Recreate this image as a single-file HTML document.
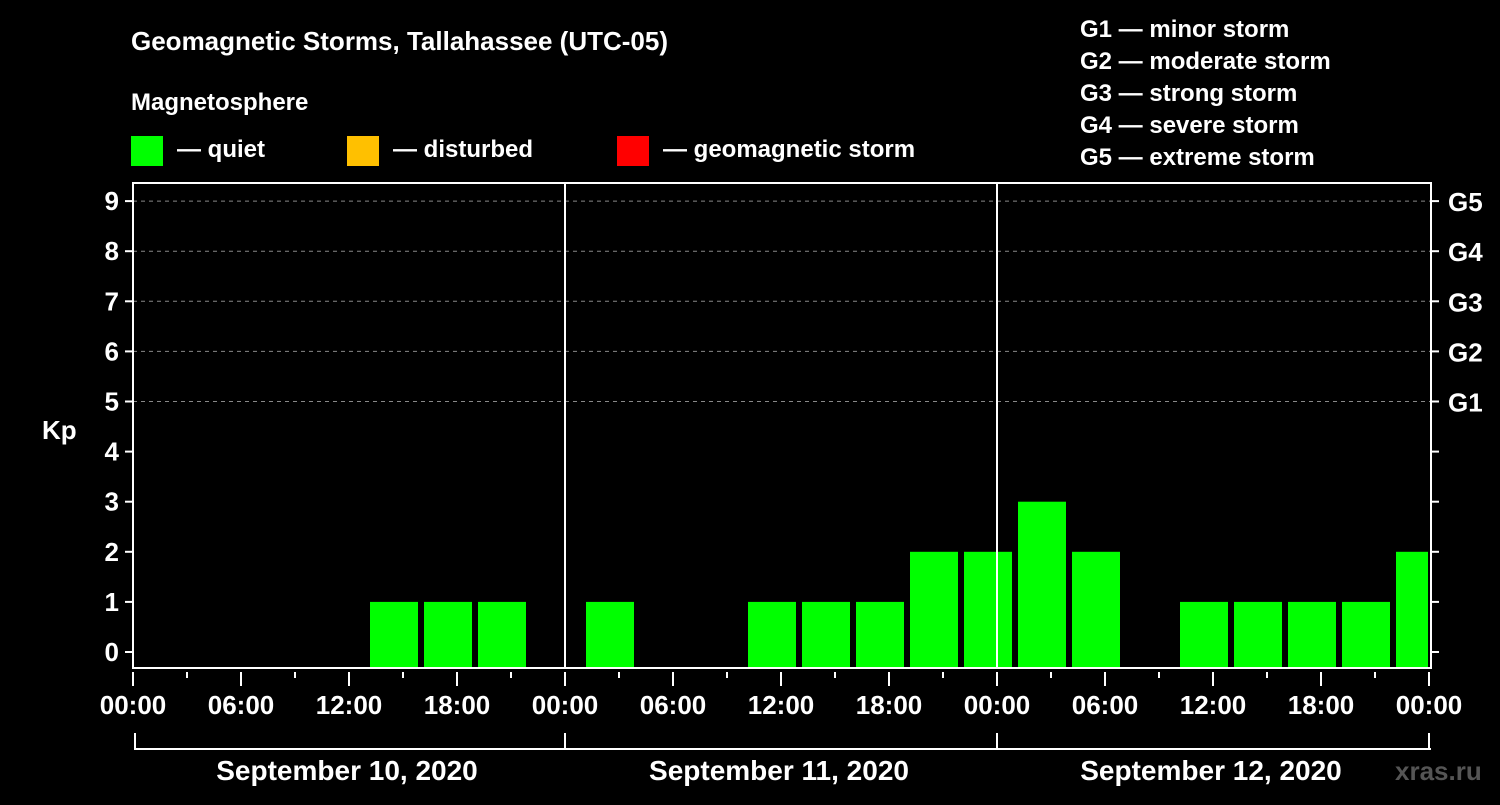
<!DOCTYPE html>
<html><head><meta charset="utf-8"><style>
body{margin:0;background:#000;width:1500px;height:800px;overflow:hidden}
text{font-family:"Liberation Sans",Arial,sans-serif;font-weight:bold;fill:#fff}
</style></head><body>
<svg id="chart" width="1500" height="800" viewBox="0 0 1500 800">
<rect width="1500" height="800" fill="#000"/>
<text x="131" y="50" font-size="26">Geomagnetic Storms, Tallahassee (UTC-05)</text>
<text x="131" y="110" font-size="24">Magnetosphere</text>
<g><rect x="131" y="136" width="32" height="30" fill="#00ff00"/><text x="177" y="157" font-size="24">— quiet</text></g>
<g><rect x="347" y="136" width="32" height="30" fill="#ffc000"/><text x="393" y="157" font-size="24">— disturbed</text></g>
<g><rect x="617" y="136" width="32" height="30" fill="#ff0000"/><text x="663" y="157" font-size="24">— geomagnetic storm</text></g>
<g font-size="24">
<text x="1080" y="37" font-size="24">G1 — minor storm</text>
<text x="1080" y="69" font-size="24">G2 — moderate storm</text>
<text x="1080" y="101" font-size="24">G3 — strong storm</text>
<text x="1080" y="133" font-size="24">G4 — severe storm</text>
<text x="1080" y="165" font-size="24">G5 — extreme storm</text>
</g>
<g id="grid"></g>
<g id="bars"></g>
<g id="axes"></g>
<text x="42" y="439" font-size="26">Kp</text>
<text x="1395" y="780" font-size="26" style="fill:#555">xras.ru</text>
</svg>
<script>
const days = ["September 10, 2020","September 11, 2020","September 12, 2020"];
const slotStartHours = [1,4,7,10,13,16,19,22];
const kpSep10 = [0,0,0,0,1,1,1,0];
const kpSep11 = [1,0,0,1,1,1,2,2];
const kpSep12 = [3,2,0,1,1,1,1,2];
const kpTicks = [0,1,2,3,4,5,6,7,8,9];
const gLabels = ["G1","G2","G3","G4","G5"];
const hourLabels = ["00:00","06:00","12:00","18:00"];

const NS="http://www.w3.org/2000/svg";
const X0=133, X1=1431, PT=183, PB=668, dayW=432;
const xH = h => X0 + h*(dayW/24);
const yK = k => 652 - k*50.1;
function mk(tag, attrs, parent){const e=document.createElementNS(NS,tag);for(const k in attrs)e.setAttribute(k,attrs[k]);parent.appendChild(e);return e;}
const grid=document.getElementById('grid'), bars=document.getElementById('bars'), axes=document.getElementById('axes');

// gridlines
for(let i=0;i<gLabels.length;i++){
  const l=mk('line',{x1:X0,x2:X1,y1:yK(5+i),y2:yK(5+i),stroke:'#888','stroke-dasharray':'4,4','stroke-width':1},grid);
  
  
  const t=mk('text',{x:1448,y:yK(5+i)+10,'font-size':26},axes);
  t.textContent=gLabels[i];
  
  
}
// bars
const allKp=[kpSep10,kpSep11,kpSep12];
allKp.forEach((arr,d)=>{
  arr.forEach((k,i)=>{
    if(k<=0)return;
    const s=xH(d*24+slotStartHours[i])+3;
    let e=xH(d*24+slotStartHours[i]+3)-3;
    if(e>X1-3)e=X1-3;
    const c = k>=5?'#ff0000':(k>=4?'#ffc000':'#00ff00');
    const r=mk('rect',{x:s,y:yK(k),width:e-s,height:PB-yK(k),fill:c},bars);
    
    
  });
});
// frame
const fr=mk('rect',{x:X0,y:PT,width:X1-X0,height:PB-PT,fill:'none',stroke:'#fff','stroke-width':2},axes);


for(let d=1;d<days.length;d++){
  const l=mk('line',{x1:xH(d*24),x2:xH(d*24),y1:PT,y2:PB,stroke:'#fff','stroke-width':2},axes);
  
  
}
// y ticks
kpTicks.forEach(k=>{
  const y=yK(k);
  mk('line',{x1:X0-8,x2:X0,y1:y,y2:y,stroke:'#fff','stroke-width':2},axes);
  mk('line',{x1:X1,x2:X1+8,y1:y,y2:y,stroke:'#fff','stroke-width':2},axes);
  const t=mk('text',{x:X0-14,y:y+9,'font-size':26,'text-anchor':'end'},axes);
  t.textContent=k;
  
  
});
// x ticks
for(let h=0;h<=days.length*24;h+=3){
  const x=xH(h), major=h%6===0;
  mk('line',{x1:x,x2:x,y1:PB+4,y2:PB+(major?18:10),stroke:'#fff','stroke-width':2},axes);
  if(major){
    const t=mk('text',{x:x,y:714,'font-size':26,'text-anchor':'middle'},axes);
    t.textContent=hourLabels[(h/6)%4];
    
    
  }
}
// date brackets
mk('line',{x1:X0+2,x2:X1,y1:749,y2:749,stroke:'#fff','stroke-width':2},axes);
for(let d=0;d<=days.length;d++){
  mk('line',{x1:xH(d*24)+(d===0?2:0),x2:xH(d*24)+(d===0?2:0),y1:733,y2:750,stroke:'#fff','stroke-width':2},axes);
}
days.forEach((s,d)=>{
  const t=mk('text',{x:xH(d*24+12)-2,y:780,'font-size':28,'text-anchor':'middle'},axes);
  t.textContent=s;
  
  
});
</script>
</body></html>
